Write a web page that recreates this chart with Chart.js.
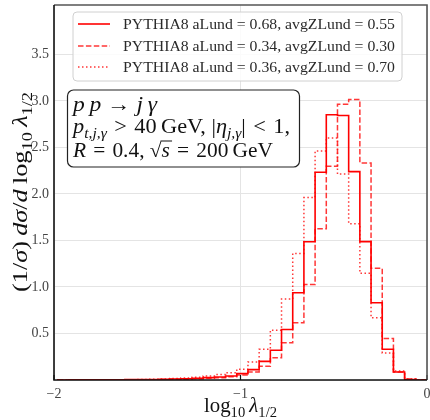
<!DOCTYPE html>
<html>
<head>
<meta charset="utf-8">
<script src="https://cdn.jsdelivr.net/npm/chart.js"></script>
<style>
  body { margin: 0; background: #fff; }
</style>
</head>
<body>
<canvas id="myChart" width="430" height="420"></canvas>
<script>
// bins of width 0.06 in log10(lambda), left edges from -1.98 up to 0
const binWidth = 0.06;
const firstEdge = -1.98;
const xTicks = [-2, -1, 0];
const yTicks = [0, 0.5, 1.0, 1.5, 2.0, 2.5, 3.0, 3.5];

const legendLabels = [
  'PYTHIA8 aLund = 0.68, avgZLund = 0.55',
  'PYTHIA8 aLund = 0.34, avgZLund = 0.30',
  'PYTHIA8 aLund = 0.36, avgZLund = 0.70'
];

// aLund = 0.68, avgZLund = 0.55 (solid)
const solidVals = [0.0005, 0.001, 0.001, 0.0015, 0.002, 0.003, 0.004, 0.005, 0.006, 0.008, 0.010,
  0.014, 0.018, 0.025, 0.033, 0.043, 0.069, 0.112, 0.20, 0.32, 0.543, 0.938, 1.485, 2.232,
  2.85, 2.843, 2.239, 1.487, 0.83, 0.331, 0.086, 0.005, 0.0];
// aLund = 0.34, avgZLund = 0.30 (dashed)
const dashedVals = [0.0003, 0.0005, 0.001, 0.001, 0.0015, 0.002, 0.003, 0.003, 0.004, 0.005, 0.007,
  0.009, 0.013, 0.018, 0.025, 0.035, 0.054, 0.086, 0.147, 0.24, 0.40, 0.614, 1.025, 1.625,
  2.296, 2.964, 3.014, 2.332, 1.2, 0.446, 0.086, 0.01, 0.0];
// aLund = 0.36, avgZLund = 0.70 (dotted)
const dottedVals = [0.0005, 0.001, 0.001, 0.0015, 0.002, 0.003, 0.004, 0.006, 0.008, 0.011, 0.015,
  0.022, 0.03, 0.043, 0.058, 0.079, 0.115, 0.194, 0.33, 0.535, 0.87, 1.36, 1.96, 2.46,
  2.60, 2.214, 1.68, 1.146, 0.668, 0.291, 0.097, 0.012, 0.002];

const serif = '"Liberation Serif", "DejaVu Serif", serif';

// turn bin values into points for a stepped line (histtype = step)
function toSteps(vals) {
  const pts = [{ x: firstEdge, y: 0 }];
  vals.forEach((v, i) => {
    pts.push({ x: +(firstEdge + i * binWidth).toFixed(2), y: v });
  });
  pts.push({ x: +(firstEdge + vals.length * binWidth).toFixed(2), y: 0 });
  return pts;
}

// draw a row of text pieces: style '' roman, 'i' italic, 's' subscript, 'o' overline
// if fit is given the row is squeezed/stretched to that width
function drawMath(ctx, parts, x, y, size, fit) {
  let natural = 0;
  parts.forEach(([t, st]) => {
    const fs = st.includes('s') ? size * 0.7 : size;
    ctx.font = (st.includes('i') ? 'italic ' : '') + fs + 'px ' + serif;
    natural += ctx.measureText(t).width;
  });
  ctx.save();
  ctx.translate(x, y);
  if (fit) ctx.scale(fit / natural, 1);
  let cx = 0;
  parts.forEach(([t, st]) => {
    const sub = st.includes('s');
    const fs = sub ? size * 0.7 : size;
    ctx.font = (st.includes('i') ? 'italic ' : '') + fs + 'px ' + serif;
    const w = ctx.measureText(t).width;
    ctx.fillText(t, cx, sub ? size * 0.25 : 0);
    if (st.includes('o')) {
      ctx.fillRect(cx - 1, -size * 0.8, w + 3, 1);
    }
    cx += w;
  });
  ctx.restore();
  return natural;
}

function roundRect(ctx, x, y, w, h, r) {
  ctx.beginPath();
  ctx.moveTo(x + r, y);
  ctx.arcTo(x + w, y, x + w, y + h, r);
  ctx.arcTo(x + w, y + h, x, y + h, r);
  ctx.arcTo(x, y + h, x, y, r);
  ctx.arcTo(x, y, x + w, y, r);
  ctx.closePath();
}

const lineStyles = [
  { color: '#ff0000', dash: [], width: 1.6 },
  { color: 'rgba(255,20,20,0.85)', dash: [5.5, 2.4], width: 1.5 },
  { color: 'rgba(255,20,20,0.85)', dash: [1.5, 2.5], width: 1.5 }
];

const sp = '\u2004'; // a bit wider than a normal space, round relations

const decorations = {
  id: 'decorations',
  afterDatasetsDraw(chart) {
    const ctx = chart.ctx;
    const a = chart.chartArea;
    const xs = chart.scales.x;
    ctx.save();

    // inward ticks on x axis
    ctx.strokeStyle = '#111';
    ctx.lineWidth = 1.2;
    xTicks.forEach(v => {
      const px = xs.getPixelForValue(v);
      ctx.beginPath();
      ctx.moveTo(px, a.bottom);
      ctx.lineTo(px, a.bottom - 5);
      ctx.stroke();
    });

    // frame
    ctx.lineWidth = 1.6;
    ctx.strokeStyle = '#555';
    ctx.beginPath();
    ctx.moveTo(a.left, a.top);
    ctx.lineTo(a.right, a.top);
    ctx.lineTo(a.right, a.bottom);
    ctx.stroke();
    ctx.strokeStyle = '#111';
    ctx.beginPath();
    ctx.moveTo(a.left, a.top);
    ctx.lineTo(a.left, a.bottom);
    ctx.lineTo(a.right, a.bottom);
    ctx.stroke();

    // legend
    ctx.fillStyle = 'rgba(255,255,255,0.85)';
    ctx.strokeStyle = '#d0d0d0';
    ctx.lineWidth = 1;
    roundRect(ctx, 73, 12, 329, 69, 4);
    ctx.fill();
    ctx.stroke();
    const rows = [24, 46, 67];
    legendLabels.forEach((lab, i) => {
      const st = lineStyles[i];
      ctx.strokeStyle = st.color;
      ctx.lineWidth = st.width;
      ctx.setLineDash(st.dash);
      ctx.beginPath();
      ctx.moveTo(78, rows[i]);
      ctx.lineTo(110, rows[i]);
      ctx.stroke();
      ctx.setLineDash([]);
      ctx.fillStyle = '#2a2a2a';
      ctx.textBaseline = 'middle';
      drawMath(ctx, [[lab, '']], 123, rows[i] + 1, 15.5, 272);
    });

    // process box
    ctx.textBaseline = 'alphabetic';
    ctx.fillStyle = '#fff';
    ctx.strokeStyle = '#222';
    ctx.lineWidth = 1.2;
    roundRect(ctx, 67.5, 90, 232, 77, 6);
    ctx.fill();
    ctx.stroke();
    ctx.fillStyle = '#111';
    drawMath(ctx, [['p', 'i'], ['\u2009', ''], ['p', 'i'], [' \u2192 ', ''], ['j', 'i'], ['\u2009', ''], ['\u03b3', 'i']], 73, 111, 20, 84);
    drawMath(ctx, [['p', 'i'], ['t,j,\u03b3', 'si'], [sp + '>' + sp + '40\u2009GeV, |', ''], ['\u03b7', 'i'], ['j,\u03b3', 'si'], ['|' + sp + '<' + sp + '1,', '']], 73, 133, 20, 217);
    drawMath(ctx, [['R', 'i'], [sp + '=' + sp + '0.4, ', ''], ['\u221a', ''], ['s', 'io'], [sp + '=' + sp + '200\u2009GeV', '']], 73, 156.5, 20, 200);

    // axis titles
    drawMath(ctx, [['log', ''], ['10', 's'], ['\u2009', ''], ['\u03bb', 'i'], ['1/2', 's']], 204, 412, 20, 73);

    ctx.translate(27, 292);
    ctx.rotate(-Math.PI / 2);
    drawMath(ctx, [['(1/', ''], ['\u03c3', 'i'], [')\u2009', ''], ['d\u03c3', 'i'], ['/', ''], ['d', 'i'], ['\u2009log', ''], ['10', 's'], ['\u2009', ''], ['\u03bb', 'i'], ['1/2', 's']], 0, 0, 21, 200);
    ctx.restore();
  }
};

const datasets = [solidVals, dashedVals, dottedVals].map((vals, i) => ({
  label: legendLabels[i],
  data: toSteps(vals),
  stepped: 'before',
  borderColor: lineStyles[i].color,
  borderWidth: lineStyles[i].width,
  borderDash: lineStyles[i].dash,
  pointRadius: 0,
  fill: false
}));

const ctx = document.getElementById('myChart').getContext('2d');
const myChart = new Chart(ctx, {
  type: 'line',
  data: { datasets: datasets },
  options: {
    responsive: false,
    animation: false,
    layout: { padding: { top: 5, right: 3, left: 0, bottom: 0 } },
    plugins: { legend: { display: false }, tooltip: { enabled: false } },
    scales: {
      x: {
        type: 'linear',
        min: -2,
        max: 0,
        afterBuildTicks: s => { s.ticks = xTicks.map(v => ({ value: v })); },
        afterFit: s => { s.height = 40; s.paddingLeft = 0; s.paddingRight = 0; },
        border: { display: false },
        grid: { color: '#e4e4e4', lineWidth: 1, drawTicks: false },
        ticks: {
          padding: 6,
          color: '#444',
          font: { family: serif, size: 14 },
          maxRotation: 0,
          callback: v => (v < 0 ? '\u2212' + Math.abs(v) : String(v))
        }
      },
      y: {
        min: 0,
        max: 4.03,
        afterBuildTicks: s => { s.ticks = yTicks.map(v => ({ value: v })); },
        afterFit: s => { s.width = 54; s.paddingTop = 0; s.paddingBottom = 0; },
        border: { display: false },
        grid: { color: '#e4e4e4', lineWidth: 1, drawTicks: false },
        ticks: {
          padding: 5,
          color: '#444',
          font: { family: serif, size: 14 },
          callback: v => (v === 0 ? '' : v.toFixed(1))
        }
      }
    }
  },
  plugins: [decorations]
});
</script>
</body>
</html>
